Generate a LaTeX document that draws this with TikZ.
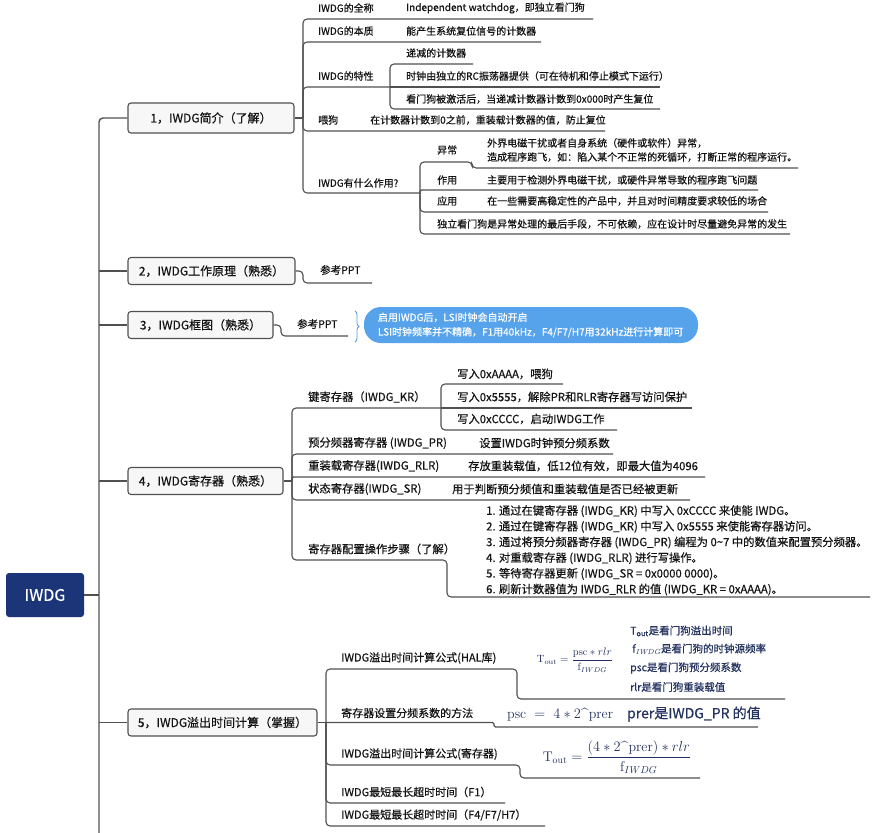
\documentclass[tikz,border=0pt]{standalone}
\usepackage{amsmath}
\usepackage{fontspec}
\newfontfamily\cjk[RawFeature={embolden=0.5}]{Noto Sans CJK SC}
\usetikzlibrary{decorations.pathreplacing}
\definecolor{rootc}{RGB}{27,53,120}
\definecolor{lineg}{RGB}{80,80,80}
\definecolor{boxfill}{RGB}{247,247,247}
\definecolor{calloutc}{RGB}{86,163,236}
\definecolor{bracec}{RGB}{91,155,213}
\definecolor{fml}{RGB}{35,50,95}
\definecolor{txt}{RGB}{20,20,20}
\begin{document}
\begin{tikzpicture}[x=1pt,y=-1pt,
  conn/.style={draw=lineg, line width=1.1pt, rounded corners=4pt},
  connS/.style={draw=lineg, line width=1.1pt, rounded corners=1.5pt},
  rootbox/.style={fill=rootc, rounded corners=3pt, text=white, font=\cjk\fontsize{16}{18}\selectfont, minimum width=78pt, minimum height=44pt, inner sep=0pt},
  topic/.style={draw=lineg, line width=1.1pt, fill=boxfill, rounded corners=3pt, text=txt, minimum height=27pt, inner sep=0pt, font=\cjk\fontsize{12}{14}\selectfont},
  lblA/.style={anchor=west, inner sep=0pt, text=txt, font=\cjk\fontsize{10}{14}\selectfont},
  lblB/.style={anchor=west, inner sep=0pt, text=txt, font=\cjk\fontsize{11.3}{13}\selectfont},
  lblC/.style={anchor=west, inner sep=0pt, text=txt, font=\cjk\fontsize{11}{13}\selectfont},
  lblP/.style={anchor=west, inner sep=0pt, text=txt, font=\cjk\fontsize{10.5}{12}\selectfont},
  fdesc/.style={anchor=west, inner sep=0pt, text=fml, font=\cjk\fontsize{10.5}{12}\selectfont},
  callbox/.style={fill=calloutc, rounded corners=17pt, text=white, text width=306pt, inner xsep=14pt, inner ysep=0pt, minimum height=36pt, align=left, font=\cjk\fontsize{10}{14.5}\selectfont},
  bracedeco/.style={draw=bracec, line width=0.8pt, decorate, decoration={brace, amplitude=4pt}}
]
\fill[white] (0,0) rectangle (879,833);
\useasboundingbox (0,0) rectangle (879,833);

% ---------- root and main topics ----------
\node[rootbox] (root) at (45,595) {IWDG};
\node[topic, minimum width=166pt, minimum height=30pt] (b1) at (211,118) {1，IWDG简介（了解）};
\node[topic, minimum width=167pt] (b2) at (211.5,271) {2，IWDG工作原理（熟悉）};
\node[topic, minimum width=145pt] (b3) at (200.5,325) {3，IWDG框图（熟悉）};
\node[topic, minimum width=155pt] (b4) at (205.5,481) {4，IWDG寄存器（熟悉）};
\node[topic, minimum width=189pt] (b5) at (222.5,722.5) {5，IWDG溢出时间计算（掌握）};

% trunk
\coordinate (tt) at (99,118);
\coordinate (tb) at (99,833);
\draw[conn, line width=1.4pt] (b1.west) -- (tt) -- (tb);
\draw[conn] (root.east) -- (99,595);
\draw[conn] (99,271) -- (b2.west);
\draw[conn] (99,325) -- (b3.west);
\draw[conn] (99,481) -- (b4.west);
\draw[conn] (99,722.5) -- (b5.west);

% ---------- branch 1 ----------
\coordinate (j1) at (303,118);
\draw[conn] (b1.east) -- (j1);
\draw[conn] (j1) |- (593,19);
\draw[conn] (j1) |- (541,42);
\coordinate (j13) at (390,87);
\draw[conn] (j1) |- (j13);
\draw[conn] (j1) |- (605,131);
\coordinate (j15) at (420,193);
\draw[conn] (j1) |- (j15);

\node[lblA] (c11) at (318,8) {IWDG的全称};
\node[lblA] (l11) at (406,8) {Independent watchdog，即独立看门狗};
\node[lblA] (c12) at (318,31) {IWDG的本质};
\node[lblA] (l12) at (406,31) {能产生系统复位信号的计数器};
\node[lblA] (c13) at (318,76) {IWDG的特性};
\draw[conn] (j13) |- (473,64);
\draw[conn] (j13) -- (660,87);
\draw[conn] (j13) |- (660,109);
\node[lblA] (l131) at (406,53) {递减的计数器};
\node[lblA] (l132) at (406,76) {时钟由独立的RC振荡器提供（可在待机和停止模式下运行）};
\node[lblA] (l133) at (406,99) {看门狗被激活后，当递减计数器计数到0x000时产生复位};
\node[lblA] (c14) at (318,120) {喂狗};
\node[lblA] (l14) at (370,120) {在计数器计数到0之前，重装载计数器的值，防止复位};
\node[lblA] (c15) at (318,183) {IWDG有什么作用?};
\draw[conn] (j15) -- (420,162) -- (472,162) -- (472,168) -- (798,168);
\draw[connS] (j15) |- (758,190);
\draw[conn] (j15) |- (768,212);
\draw[conn] (j15) |- (790,234);
\node[lblA] (c151) at (437,150) {异常};
\node[lblA, align=left] (l151) at (487,150) {外界电磁干扰或者自身系统（硬件或软件）异常，\\造成程序跑飞，如：陷入某个不正常的死循环，打断正常的程序运行。};
\node[lblA] (c152) at (437,180) {作用};
\node[lblA] (l152) at (487,180) {主要用于检测外界电磁干扰，或硬件异常导致的程序跑飞问题};
\node[lblA] (c153) at (437,201) {应用};
\node[lblA] (l153) at (487,201) {在一些需要高稳定性的产品中，并且对时间精度要求较低的场合};
\node[lblA] (c154) at (437,224) {独立看门狗是异常处理的最后手段，不可依赖，应在设计时尽量避免异常的发生};

% ---------- branch 2 ----------
\coordinate (j2) at (303,271);
\draw[conn] (b2.east) -- (j2) |- (372,283);
\node[lblP] (c21) at (320,270) {参考PPT};

% ---------- branch 3 ----------
\coordinate (j3) at (281,325);
\draw[conn] (b3.east) -- (j3) |- (348,336);
\node[lblP] (c31) at (297,324) {参考PPT};
\draw[bracedeco] (355,311) -- (355,342);
\node[callbox] (co) at (531,325) {启用IWDG后，LSI时钟会自动开启\\LSI时钟频率并不精确，F1用40kHz，F4/F7/H7用32kHz进行计算即可};

% ---------- branch 4 ----------
\coordinate (j4) at (292,481);
\draw[conn] (b4.east) -- (j4);
\coordinate (j41) at (441,408);
\draw[conn] (j4) |- (j41);
\draw[conn] (j41) |- (563,384);
\draw[conn] (j41) -- (692,408);
\draw[conn] (j41) |- (617,430);
\draw[conn] (j4) |- (613,454);
\draw[connS] (j4) |- (705,477);
\draw[conn] (j4) |- (690,500);
\draw[conn] (j4) -- (292,560) -- (447,560) -- (447,597) -- (870,597);

\node[lblB] (c41) at (308,397) {键寄存器（IWDG\_KR）};
\node[lblB] (l411) at (457,374) {写入0xAAAA，喂狗};
\node[lblB] (l412) at (457,397) {写入0x5555，解除PR和RLR寄存器写访问保护};
\node[lblB] (l413) at (457,419) {写入0xCCCC，启动IWDG工作};
\node[lblB] (c42) at (308,443) {预分频器寄存器 (IWDG\_PR)};
\node[lblB] (l42) at (479,443) {设置IWDG时钟预分频系数};
\node[lblB] (c43) at (308,466) {重装载寄存器(IWDG\_RLR)};
\node[lblB] (l43) at (468,466) {存放重装载值，低12位有效，即最大值为4096};
\node[lblB] (c44) at (308,489) {状态寄存器(IWDG\_SR)};
\node[lblB] (l44) at (452,489) {用于判断预分频值和重装载值是否已经被更新};
\node[lblB] (c45) at (308,549) {寄存器配置操作步骤（了解）};
\node[lblC, anchor=north west, align=left, font=\cjk\fontsize{11.3}{15.7}\selectfont] (l45) at (486,505) {1. 通过在键寄存器 (IWDG\_KR) 中写入 0xCCCC 来使能 IWDG。\\
2. 通过在键寄存器 (IWDG\_KR) 中写入 0x5555 来使能寄存器访问。\\
3. 通过将预分频器寄存器 (IWDG\_PR) 编程为 0\textasciitilde7 中的数值来配置预分频器。\\
4. 对重载寄存器 (IWDG\_RLR) 进行写操作。\\
5. 等待寄存器更新 (IWDG\_SR = 0x0000 0000)。\\
6. 刷新计数器值为 IWDG\_RLR 的值 (IWDG\_KR = 0xAAAA)。};

% ---------- branch 5 ----------
\coordinate (j5) at (326,722.5);
\draw[conn] (b5.east) -- (j5);
\draw[conn] (j5) -- (326,669) -- (517,669) -- (517,699) -- (785,699);
\draw[connS] (j5) -- (494,722.5) -- (494,727) -- (758,727);
\draw[conn] (j5) -- (326,765) -- (520,765) -- (520,778) -- (700,778);
\draw[conn] (j5) |- (505,803);
\draw[conn] (j5) |- (545,826);

\node[lblC] (c51) at (341,658) {IWDG溢出时间计算公式(HAL库)};
\node[anchor=center, inner sep=0pt, text=fml, font=\fontsize{10.5}{12}\selectfont] (f51) at (575,660)
  {$\mathrm{T}_{\mathrm{out}} = \dfrac{\mathrm{psc} * rlr}{\mathrm{f}_{IWDG}}$};
\node[fdesc] (d1) at (630,631) {T\textsubscript{out}是看门狗溢出时间};
\node[fdesc] (d2) at (632,649) {f\textsubscript{\rmfamily\itshape IWDG}是看门狗的时钟源频率};
\node[fdesc] (d3) at (630,668) {psc是看门狗预分频系数};
\node[fdesc] (d4) at (630,687) {rlr是看门狗重装载值};

\node[lblC] (c52) at (341,713) {寄存器设置分频系数的方法};
\node[anchor=west, inner sep=0pt, text=fml, font=\fontsize{14}{16}\selectfont] (f52) at (507,714)
  {$\mathrm{psc}\;=\;4 * 2\mbox{\textasciicircum}\mathrm{prer}$\quad{\cjk prer是IWDG\_PR 的值}};

\node[lblC] (c53) at (341,754) {IWDG溢出时间计算公式(寄存器)};
\node[anchor=center, inner sep=0pt, text=fml, font=\fontsize{14}{16}\selectfont] (f53) at (617,757)
  {$\mathrm{T}_{\mathrm{out}} = \dfrac{(4 * 2\mbox{\textasciicircum}\mathrm{prer}) * rlr}{\mathrm{f}_{IWDG}}$};

\node[lblC] (c54) at (341,792) {IWDG最短最长超时时间（F1）};
\node[lblC] (c55) at (341,815) {IWDG最短最长超时时间（F4/F7/H7）};
\end{tikzpicture}
\end{document}
